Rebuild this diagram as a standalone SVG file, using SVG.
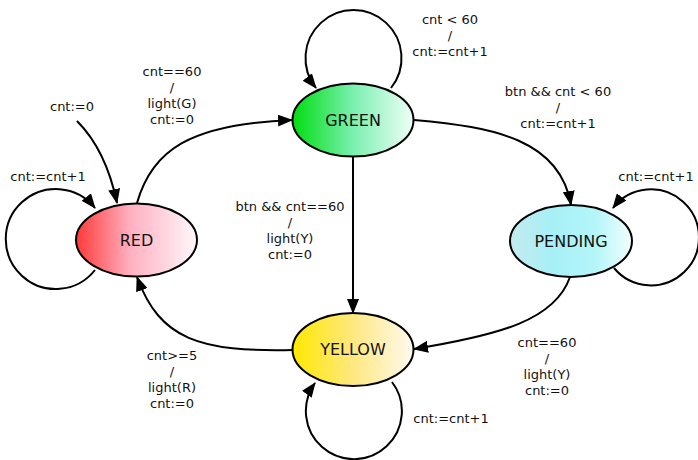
<svg xmlns="http://www.w3.org/2000/svg" width="698" height="460" viewBox="0 0 698 460">
<style>
.node ellipse{stroke:#000;stroke-width:2}
.node text{font-family:"DejaVu Sans",sans-serif;font-size:16px;fill:#111;text-anchor:middle;dominant-baseline:central}
.edges path{fill:none;stroke:#000;stroke-width:2;marker-end:url(#arr)}
.lbl{font-family:"DejaVu Sans",sans-serif;font-size:13px;fill:#111;text-anchor:middle}
</style>
<defs>
<marker id="arr" markerUnits="userSpaceOnUse" markerWidth="16" markerHeight="12" refX="14" refY="6" orient="auto"><path d="M0,0 L15,6 L0,12 Z" fill="#000"/></marker>
<linearGradient id="gRed" x1="0" x2="1" y1="0" y2="0"><stop offset="0" stop-color="#ff3a3a"/><stop offset="0.45" stop-color="#ffb0c0"/><stop offset="1" stop-color="#fff8fc"/></linearGradient>
<linearGradient id="gGreen" x1="0" x2="1" y1="0" y2="0"><stop offset="0" stop-color="#00dd10"/><stop offset="0.5" stop-color="#7af0b0"/><stop offset="1" stop-color="#f0fff8"/></linearGradient>
<linearGradient id="gPend" x1="0" x2="1" y1="0" y2="0"><stop offset="0" stop-color="#c4eaf0"/><stop offset="0.35" stop-color="#a6f0f6"/><stop offset="0.7" stop-color="#b4f6fa"/><stop offset="1" stop-color="#f2ffff"/></linearGradient>
<linearGradient id="gYel" x1="0" x2="1" y1="0" y2="0"><stop offset="0" stop-color="#ffe800"/><stop offset="0.5" stop-color="#ffe880"/><stop offset="1" stop-color="#fffaf0"/></linearGradient>
</defs>
<rect width="698" height="460" fill="#fff"/>
<g class="edges">
<path d="M77,121 Q106,150 117,203"/>
<path d="M95,270 A50,50 0 1 1 95,208"/>
<path d="M137,203 C152,150 190,124 292,120"/>
<path d="M391,88 A48,48 0 1 0 316,88"/>
<path d="M414,120 C495,127 560,140 571,205"/>
<path d="M614,268 A48,48 0 1 0 613,208"/>
<path d="M570,277 C555,320 500,335 414,349"/>
<path d="M353,156 L353,313"/>
<path d="M293,350 C200,352 160,340 137,277"/>
<path d="M392,382 A48,48 0 1 1 315,383"/>
</g>
<g id="labels">
<text class="lbl" x="72" y="111">cnt:=0</text>
<text class="lbl" x="48" y="181">cnt:=cnt+1</text>
<text class="lbl"><tspan x="172" y="76">cnt==60</tspan><tspan x="172" y="92">/</tspan><tspan x="172" y="108">light(G)</tspan><tspan x="172" y="124">cnt:=0</tspan></text>
<text class="lbl"><tspan x="450" y="24">cnt &lt; 60</tspan><tspan x="450" y="40">/</tspan><tspan x="450" y="56">cnt:=cnt+1</tspan></text>
<text class="lbl"><tspan x="558" y="96">btn &amp;&amp; cnt &lt; 60</tspan><tspan x="558" y="112">/</tspan><tspan x="558" y="128">cnt:=cnt+1</tspan></text>
<text class="lbl" x="656" y="181">cnt:=cnt+1</text>
<text class="lbl"><tspan x="290" y="211">btn &amp;&amp; cnt==60</tspan><tspan x="290" y="227">/</tspan><tspan x="290" y="243">light(Y)</tspan><tspan x="290" y="259">cnt:=0</tspan></text>
<text class="lbl"><tspan x="547" y="347">cnt==60</tspan><tspan x="547" y="363">/</tspan><tspan x="547" y="379">light(Y)</tspan><tspan x="547" y="395">cnt:=0</tspan></text>
<text class="lbl"><tspan x="172" y="360">cnt&gt;=5</tspan><tspan x="172" y="376">/</tspan><tspan x="172" y="392">light(R)</tspan><tspan x="172" y="408">cnt:=0</tspan></text>
<text class="lbl" x="451" y="423">cnt:=cnt+1</text>
</g>
<g id="RED" class="node"><ellipse cx="136.5" cy="240" rx="60.5" ry="36.5" fill="url(#gRed)"/><text x="136.5" y="240">RED</text></g>
<g id="GREEN" class="node"><ellipse cx="353" cy="120" rx="60.5" ry="36.5" fill="url(#gGreen)"/><text x="353" y="120">GREEN</text></g>
<g id="PENDING" class="node"><ellipse cx="571" cy="241" rx="61" ry="36" fill="url(#gPend)"/><text x="571" y="241">PENDING</text></g>
<g id="YELLOW" class="node"><ellipse cx="353" cy="349.5" rx="60.5" ry="36.5" fill="url(#gYel)"/><text x="353" y="349.5">YELLOW</text></g>
</svg>
